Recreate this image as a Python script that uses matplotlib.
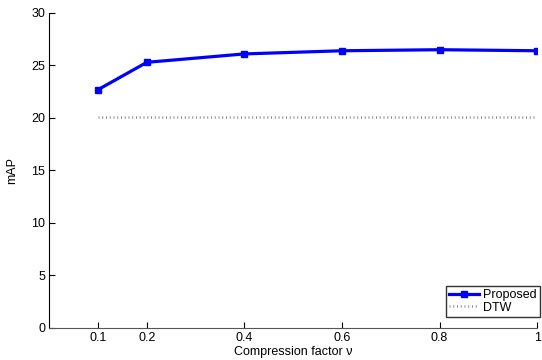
import numpy as np
import matplotlib
matplotlib.use('Agg')
import matplotlib.pyplot as plt

plt.rcParams['font.family'] = ['Liberation Sans', 'DejaVu Sans']

nu = [0.1, 0.2, 0.4, 0.6, 0.8, 1.0]
proposed = [22.7, 25.3, 26.1, 26.4, 26.5, 26.4]
dtw = [20.1, 20.1, 20.1, 20.1, 20.1, 20.1]
xtick_labels = ['0.1', '0.2', '0.4', '0.6', '0.8', '1']

fig = plt.figure(figsize=(5.42, 3.6), dpi=100)
ax = fig.add_axes([0.091, 0.089, 0.9, 0.875])

ax.plot(nu, proposed, color='blue', linewidth=2.3, marker='s', markersize=5, label='Proposed')
ax.plot(nu, dtw, color='#8c8c8c', linewidth=1.8, linestyle=(0, (0.4, 1.1)), label='DTW')

ax.set_xlim(0, 1)
ax.set_ylim(0, 30)
ax.set_xticks(nu)
ax.set_xticklabels(xtick_labels)
ax.set_yticks([0, 5, 10, 15, 20, 25, 30])
ax.tick_params(direction='in', labelsize=9, length=4, width=0.8, pad=3)
ax.spines['top'].set_visible(False)
ax.spines['right'].set_visible(False)
ax.spines['left'].set_color('black')
ax.spines['bottom'].set_color('#555555')

ax.set_xlabel('Compression factor ν', fontsize=9, labelpad=1)
ax.set_ylabel('mAP', fontsize=9, labelpad=9)

leg = ax.legend(loc='lower right', bbox_to_anchor=(1.005, 0.035), fontsize=9, frameon=True, fancybox=False,
                handlelength=2.4, handletextpad=0.3, borderpad=0.25, labelspacing=0.05, borderaxespad=0)
leg.get_frame().set_edgecolor('black')
leg.get_frame().set_linewidth(1.0)

plt.savefig('out.png', dpi=100)
plt.close()
